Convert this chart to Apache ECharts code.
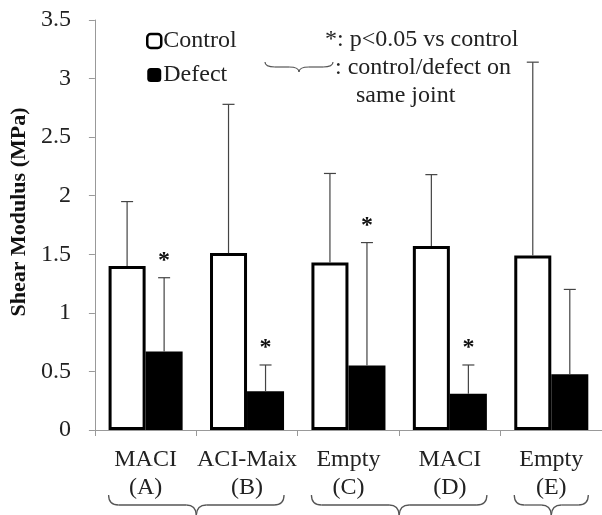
<!DOCTYPE html>
<html>
<head>
<meta charset="utf-8">
<script src="https://cdn.jsdelivr.net/npm/echarts@6/dist/echarts.min.js"></script>
<style>html,body{margin:0;padding:0;background:#fff}#c{width:602px;height:515px}</style>
</head>
<body>
<div id="c"></div>
<script>
const categories = ['MACI\n(A)', 'ACI-Maix\n(B)', 'Empty\n(C)', 'MACI\n(D)', 'Empty\n(E)'];
const controlMean = [1.40, 1.51, 1.43, 1.57, 1.49];
const controlErrTop = [1.95, 2.78, 2.19, 2.18, 3.14];
const defectMean = [0.67, 0.33, 0.55, 0.31, 0.475];
const defectErrTop = [1.30, 0.555, 1.60, 0.555, 1.20];
const defectSig = [true, true, true, true, false];
const jointGroups = [[0, 1], [2, 3], [4]];
const yTicks = [0, 0.5, 1, 1.5, 2, 2.5, 3, 3.5];

const FONT = '"Liberation Serif", "DejaVu Serif", serif';
const CAT_GAP = 0.27;

function errData(mean, top, sig, s) {
  return mean.map((m, i) => [i, m, top[i], sig ? (sig[i] ? 1 : 0) : 0, s]);
}

function renderErr(params, api) {
  const cat = api.value(0);
  const s = api.value(4);
  const catW = api.size([1, 0])[0];
  const bw = catW * (1 - CAT_GAP) / 2;
  const cx = api.coord([cat, 0])[0] + (s === 0 ? -bw / 2 : bw / 2);
  const y0 = api.coord([cat, api.value(1)])[1];
  const y1 = api.coord([cat, api.value(2)])[1];
  const style = { stroke: '#444', lineWidth: 1.2 };
  const children = [
    { type: 'line', shape: { x1: cx, y1: y0, x2: cx, y2: y1 }, style: style },
    { type: 'line', shape: { x1: cx - 6, y1: y1, x2: cx + 6, y2: y1 }, style: style }
  ];
  if (api.value(3) === 1) {
    children.push({
      type: 'text',
      style: { text: '*', x: cx, y: y1 - 5, align: 'center', verticalAlign: 'bottom',
               font: 'bold 24px ' + FONT, fill: '#111' }
    });
  }
  return { type: 'group', children: children };
}

const chart = echarts.init(document.getElementById('c'));
chart.setOption({
  animation: false,
  backgroundColor: '#fff',
  grid: { left: 89, top: 20, width: 520, height: 410 },
  legend: {
    orient: 'vertical', left: 141, top: 24, itemWidth: 14, itemHeight: 14, itemGap: 10,
    data: [
      { name: 'Control', itemStyle: { color: '#fff', borderColor: '#000', borderWidth: 2.5 } },
      { name: 'Defect', itemStyle: { color: '#000', borderColor: '#000', borderWidth: 0 } }
    ],
    textStyle: { fontFamily: FONT, fontSize: 24, color: '#222', padding: [0, 0, 0, -3] }
  },
  xAxis: {
    type: 'category', data: categories, boundaryGap: true,
    axisLine: { lineStyle: { color: '#999', width: 1 } },
    axisTick: { show: true, length: 6, lineStyle: { color: '#999' } },
    axisLabel: { interval: 0, fontFamily: FONT, fontSize: 24, color: '#222', lineHeight: 28, margin: 16 }
  },
  yAxis: {
    type: 'value', min: 0, max: 3.5, interval: 0.5,
    name: 'Shear Modulus (MPa)', nameLocation: 'middle', nameGap: 64,
    nameTextStyle: { fontFamily: FONT, fontSize: 22, fontWeight: 'bold', color: '#111', padding: [0, 0, 0, 26] },
    axisLine: { show: true, lineStyle: { color: '#999', width: 1 } },
    axisTick: { show: true, length: 6, lineStyle: { color: '#999' } },
    splitLine: { show: false },
    axisLabel: { fontFamily: FONT, fontSize: 24, color: '#222', margin: 24,
                 formatter: v => String(yTicks.find(t => Math.abs(t - v) < 1e-9) ?? v) }
  },
  series: [
    { name: 'Control', type: 'bar', data: controlMean, barGap: '0%', barCategoryGap: (CAT_GAP * 100) + '%',
      itemStyle: { color: '#fff', borderColor: '#000', borderWidth: 3 }, z: 2 },
    { name: 'Defect', type: 'bar', data: defectMean, barGap: '0%', barCategoryGap: (CAT_GAP * 100) + '%',
      itemStyle: { color: '#000', borderColor: '#000', borderWidth: 0 }, z: 2 },
    { type: 'custom', renderItem: renderErr, data: errData(controlMean, controlErrTop, null, 0), z: 3,
      encode: { x: 0, y: 2 }, silent: true },
    { type: 'custom', renderItem: renderErr, data: errData(defectMean, defectErrTop, defectSig, 1), z: 3,
      encode: { x: 0, y: 2 }, silent: true }
  ]
});

function braceElems(x0, x1, yEnd, yMid, yTip, color, lw) {
  const xc = (x0 + x1) / 2;
  const r = Math.min(10, (x1 - x0) / 6);
  const st = { stroke: color, lineWidth: lw, fill: null };
  const q = (ax, ay, cx, cy, bx, by) => ({ type: 'bezierCurve', shape: { x1: ax, y1: ay, cpx1: cx, cpy1: cy, x2: bx, y2: by }, style: st });
  const l = (ax, ay, bx, by) => ({ type: 'line', shape: { x1: ax, y1: ay, x2: bx, y2: by }, style: st });
  return [
    q(x0, yEnd, x0, yMid, x0 + r, yMid),
    l(x0 + r, yMid, xc - r, yMid),
    q(xc - r, yMid, xc, yMid, xc, yTip),
    q(xc, yTip, xc, yMid, xc + r, yMid),
    l(xc + r, yMid, x1 - r, yMid),
    q(x1 - r, yMid, x1, yMid, x1, yEnd)
  ];
}

const catW = chart.convertToPixel({ xAxisIndex: 0 }, 1) - chart.convertToPixel({ xAxisIndex: 0 }, 0);
const barW = catW * (1 - CAT_GAP) / 2;
let graphics = [];
jointGroups.forEach(g => {
  const xa = chart.convertToPixel({ xAxisIndex: 0 }, g[0]) - barW;
  const xb = chart.convertToPixel({ xAxisIndex: 0 }, g[g.length - 1]) + barW;
  graphics = graphics.concat(braceElems(xa, xb, 495, 505, 516, '#555', 1.3));
});
graphics = graphics.concat(braceElems(265, 333, 62, 67, 72, '#555', 1.2));
graphics.push({ type: 'text', x: 325, y: 40, style: { text: '*: p<0.05 vs control', font: '24px ' + FONT, fill: '#222', verticalAlign: 'middle' } });
graphics.push({ type: 'text', x: 335, y: 68, style: { text: ': control/defect on', font: '24px ' + FONT, fill: '#222', verticalAlign: 'middle' } });
graphics.push({ type: 'text', x: 356, y: 96, style: { text: 'same joint', font: '24px ' + FONT, fill: '#222', verticalAlign: 'middle' } });
chart.setOption({ graphic: graphics });
</script>
</body>
</html>
